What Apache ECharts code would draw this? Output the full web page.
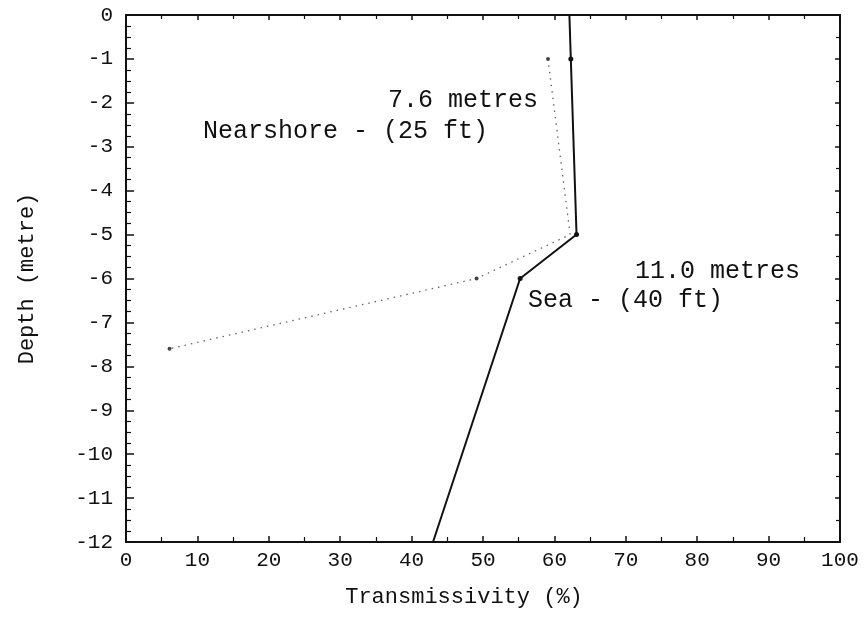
<!DOCTYPE html>
<html>
<head>
<meta charset="utf-8">
<script src="https://cdn.jsdelivr.net/npm/echarts@6/dist/echarts.min.js"></script>
<style>
  html, body { margin: 0; padding: 0; background: #fff; }
  #chart { width: 868px; height: 617px; }
</style>
</head>
<body>
<div id="chart"></div>
<script>
// Transmissivity profiles against depth
const xTicks = [0, 10, 20, 30, 40, 50, 60, 70, 80, 90, 100];
const yTicks = [0, -1, -2, -3, -4, -5, -6, -7, -8, -9, -10, -11, -12];

// Sea station, 11.0 m (40 ft)
const seaDepth = [0, -1, -5, -6, -12];
const seaTrans = [62.1, 62.3, 63.1, 55.2, 43.0];
const seaMarked = [false, true, true, true, false];

// Nearshore station, 7.6 m (25 ft)
const nearDepth = [-1, -5, -6, -7.6];
const nearTrans = [59.1, 62.2, 49.1, 6.1];
const nearMarked = [true, false, true, true];

const FONT = '"Liberation Mono", "DejaVu Sans Mono", monospace';
const INK = '#111';

function points(xs, ys, marked, size) {
  return xs.map((x, i) => ({
    value: [x, ys[i]],
    symbolSize: marked[i] ? size : 0
  }));
}

const chart = echarts.init(document.getElementById('chart'));

const axisLine = { show: true, onZero: false, lineStyle: { color: INK, width: 2 } };

chart.setOption({
  animation: false,
  backgroundColor: '#fff',
  grid: { left: 126, right: 28, top: 15, bottom: 75, containLabel: false },
  xAxis: [
    {
      type: 'value', min: 0, max: 100, interval: 10, position: 'bottom',
      axisLine: axisLine,
      axisTick: { show: true, inside: true, length: 6, lineStyle: { color: INK, width: 1.5 } },
      minorTick: { show: true, splitNumber: 2, length: 5, lineStyle: { color: INK, width: 1.2 } },
      splitLine: { show: false },
      axisLabel: { color: INK, fontFamily: FONT, fontSize: 21, margin: 8,
        formatter: v => xTicks.includes(v) ? String(v) : '' },
      name: 'Transmissivity (%)', nameLocation: 'middle', nameGap: 44,
      nameTextStyle: { color: INK, fontFamily: FONT, fontSize: 22, padding: [0, 38, 0, 0] }
    },
    {
      type: 'value', min: 0, max: 100, interval: 10, position: 'top',
      axisLine: axisLine,
      axisTick: { show: true, inside: true, length: 5, lineStyle: { color: INK, width: 1.5 } },
      minorTick: { show: true, splitNumber: 2, length: 4, lineStyle: { color: INK, width: 1.2 } },
      splitLine: { show: false }, axisLabel: { show: false }
    }
  ],
  yAxis: [
    {
      type: 'value', min: -12, max: 0, interval: 1, position: 'left',
      axisLine: axisLine,
      axisTick: { show: true, inside: true, length: 8, lineStyle: { color: INK, width: 1.5 } },
      minorTick: { show: true, splitNumber: 4, length: 5, lineStyle: { color: INK, width: 1.2 } },
      splitLine: { show: false },
      axisLabel: { color: INK, fontFamily: FONT, fontSize: 21, margin: 13,
        formatter: v => yTicks.includes(v) ? String(v) : '' },
      name: 'Depth (metre)', nameLocation: 'middle', nameGap: 88, nameRotate: 90,
      nameTextStyle: { color: INK, fontFamily: FONT, fontSize: 22 }
    },
    {
      type: 'value', min: -12, max: 0, interval: 1, position: 'right',
      axisLine: axisLine,
      axisTick: { show: true, inside: true, length: 5, lineStyle: { color: INK, width: 1.5 } },
      minorTick: { show: true, splitNumber: 2, length: 4, lineStyle: { color: INK, width: 1.2 } },
      splitLine: { show: false }, axisLabel: { show: false }
    }
  ],
  series: [
    {
      name: 'Sea', type: 'line',
      data: points(seaTrans, seaDepth, seaMarked, 5),
      symbol: 'circle', showSymbol: true,
      itemStyle: { color: INK },
      lineStyle: { color: INK, width: 2 },
      z: 3
    },
    {
      name: 'Nearshore', type: 'line',
      data: points(nearTrans, nearDepth, nearMarked, 4),
      symbol: 'circle', showSymbol: true,
      itemStyle: { color: '#444' },
      lineStyle: { color: '#666', width: 1.3, type: [1.5, 5] },
      z: 2
    }
  ],
  graphic: [
    { type: 'text', left: 388, top: 88,
      style: { text: '7.6 metres', font: '25px ' + FONT, fill: INK } },
    { type: 'text', left: 203, top: 119,
      style: { text: 'Nearshore - (25 ft)', font: '25px ' + FONT, fill: INK } },
    { type: 'text', left: 635, top: 259,
      style: { text: '11.0 metres', font: '25px ' + FONT, fill: INK } },
    { type: 'text', left: 528, top: 288,
      style: { text: 'Sea - (40 ft)', font: '25px ' + FONT, fill: INK } }
  ]
});
</script>
</body>
</html>
